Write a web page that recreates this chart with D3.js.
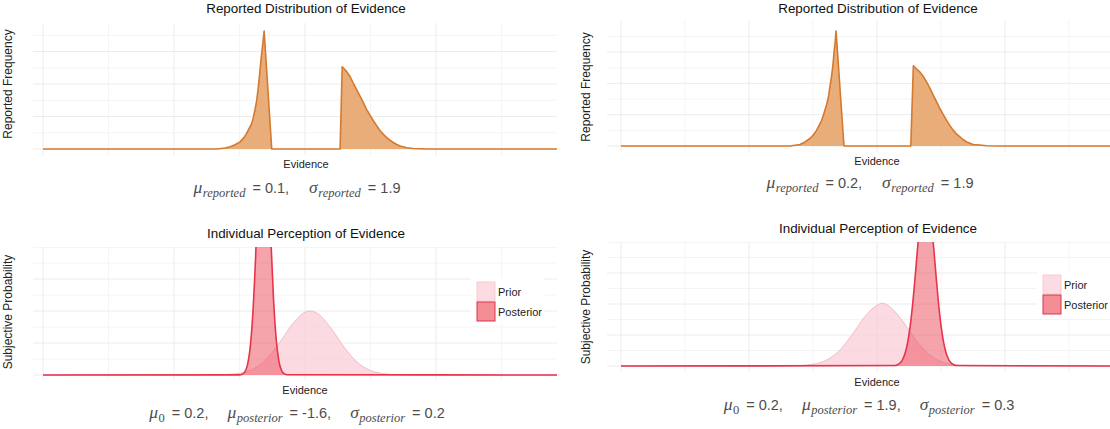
<!DOCTYPE html>
<html><head><meta charset="utf-8">
<script src="https://cdn.jsdelivr.net/npm/d3@7"></script>
<style>body{margin:0;background:#fff} svg{display:block}</style>
</head><body>
<svg id="c" width="1110" height="429"></svg>
<script>
// ---------------- DATA ----------------
const xDomain = [-10, 10];
const xMajorTicks = [-10, -5, 0, 5, 10];
const xMinorTicks = [-7.5, -2.5, 2.5, 7.5];
const topMajorTicks = [0, 0.1, 0.2, 0.3];
const topMinorTicks = [0.05, 0.15, 0.25, 0.35];
const botMajorTicks = [0, 0.2, 0.4, 0.6, 0.8];
const botMinorTicks = [0.1, 0.3, 0.5, 0.7];

// Reported distribution, left column (mu=0.1, sigma=1.9)
const reportedA_low = [[-3.37,0],[-3.05,0.003],[-2.86,0.007],[-2.67,0.013],[-2.48,0.022],[-2.33,0.035],[-2.23,0.048],[-2.14,0.062],[-2.03,0.079],[-1.97,0.098],[-1.91,0.12],[-1.84,0.151],[-1.78,0.192],[-1.73,0.231],[-1.68,0.274],[-1.62,0.317],[-1.56,0.363],[-1.27,0]];
const reportedA_high = [[1.34,0],[1.42,0.253],[1.59,0.238],[1.72,0.223],[1.84,0.203],[1.97,0.183],[2.10,0.163],[2.23,0.142],[2.35,0.122],[2.48,0.104],[2.61,0.087],[2.74,0.071],[2.86,0.057],[2.99,0.045],[3.12,0.035],[3.24,0.027],[3.37,0.02],[3.50,0.014],[3.63,0.009],[3.88,0.004],[4.13,0.0015],[4.64,0]];
// Reported distribution, right column (mu=0.2, sigma=1.9)
const reportedB_low = [[-3.40,0],[-3.01,0.005],[-2.81,0.013],[-2.62,0.024],[-2.49,0.035],[-2.36,0.05],[-2.27,0.064],[-2.16,0.082],[-2.07,0.105],[-1.96,0.135],[-1.89,0.16],[-1.84,0.189],[-1.78,0.22],[-1.73,0.252],[-1.70,0.278],[-1.67,0.306],[-1.63,0.335],[-1.60,0.367],[-1.29,0]];
const reportedB_high = [[1.32,0],[1.42,0.256],[1.55,0.246],[1.68,0.236],[1.81,0.222],[1.94,0.204],[2.07,0.184],[2.20,0.162],[2.33,0.141],[2.46,0.119],[2.59,0.1],[2.72,0.082],[2.85,0.065],[2.98,0.05],[3.11,0.038],[3.24,0.029],[3.37,0.02],[3.50,0.013],[3.63,0.009],[3.76,0.005],[4.02,0.003],[4.28,0.001],[4.80,0]];

// Prior (same in both columns)
const priorX = [-4,-3.5,-3,-2.5,-2,-1.5,-1,-0.5,0,0.2,0.5,1,1.5,2,2.5,3,3.5,4,4.5];
const priorA = [0,0.001,0.003,0.011,0.036,0.094,0.195,0.313,0.392,0.4,0.382,0.29,0.172,0.079,0.028,0.008,0.002,0,0];
const priorB = [0,0.001,0.003,0.011,0.036,0.094,0.195,0.313,0.392,0.405,0.382,0.29,0.172,0.079,0.028,0.008,0.002,0,0];
// Posterior, left column (mu=-1.6)
const postAX = [-2.5,-2.4,-2.3,-2.2,-2.1,-2.0,-1.9,-1.8,-1.7,-1.6,-1.5,-1.4,-1.3,-1.2,-1.1,-1.0,-0.9,-0.8,-0.7];
const postAY = [0.001,0.005,0.018,0.06,0.16,0.36,0.68,1.09,1.46,1.65,1.57,1.25,0.84,0.47,0.225,0.09,0.03,0.008,0.002];
// Posterior, right column (mu=1.9)
const postBX = [0.7,0.8,0.9,1.0,1.1,1.2,1.3,1.4,1.5,1.6,1.7,1.8,1.9,2.0,2.1,2.2,2.3,2.4,2.5,2.6,2.7,2.8,2.9,3.0,3.1];
const postBY = [0.003,0.008,0.019,0.042,0.084,0.154,0.262,0.41,0.595,0.79,0.97,1.095,1.14,1.095,0.97,0.79,0.595,0.41,0.262,0.154,0.084,0.042,0.019,0.008,0.003];

const topTitle = "Reported Distribution of Evidence";
const botTitle = "Individual Perception of Evidence";
const xTitle = "Evidence";
const topYTitle = "Reported Frequency";
const botYTitle = "Subjective Probability";
const legendLabels = ["Prior", "Posterior"];

const formulaTL = [["m","μ"],["s","reported"],["n","= 0.1,"],["m","σ",20],["s","reported"],["n","= 1.9"]];
const formulaTR = [["m","μ"],["s","reported"],["n","= 0.2,"],["m","σ",20],["s","reported"],["n","= 1.9"]];
const formulaBL = [["m","μ"],["z","0"],["n","= 0.2,"],["m","μ",19],["s","posterior"],["n","= -1.6,"],["m","σ",19],["s","posterior"],["n","= 0.2"]];
const formulaBR = [["m","μ"],["z","0"],["n","= 0.2,"],["m","μ",19],["s","posterior"],["n","= 1.9,"],["m","σ",19],["s","posterior"],["n","= 0.3"]];

// ---------------- DRAW ----------------
const svg = d3.select("#c");
const SANS = "'Liberation Sans', Arial, Helvetica, sans-serif";
const SERIF = "'Liberation Serif', 'Times New Roman', serif";
const defs = svg.append("defs");

const panels = [
  {id:"tl", kind:"top", xr:[43,567], yr:[149,19], yd:[0,0.4], box:[33,23,557,155], low:reportedA_low, high:reportedA_high,
   title:[306,13], xt:[306,168], yt:[12,84], f:[297,193], formula:formulaTL},
  {id:"tr", kind:"top", xr:[621,1133], yr:[146,20.8], yd:[0,0.4], box:[607,21,1110,152], low:reportedB_low, high:reportedB_high,
   title:[878,13], xt:[877,165], yt:[590,87], f:[870,188], formula:formulaTR},
  {id:"bl", kind:"bot", xr:[43,567], yr:[375,247], yd:[0,0.8], box:[33,247,557,380], prior:priorA, postX:postAX, postY:postAY,
   title:[306,238], xt:[305,394], yt:[12,312], f:[297,418], formula:formulaBL, leg:[477,282,498]},
  {id:"br", kind:"bot", xr:[621,1133], yr:[366,242], yd:[0,0.8], box:[607,242,1110,372], prior:priorB, postX:postBX, postY:postBY,
   title:[878,233], xt:[877,386], yt:[590,307], f:[869,410], formula:formulaBR, leg:[1043,275,1064]}
];

panels.forEach(p => {
  const x = d3.scaleLinear().domain(xDomain).range(p.xr);
  const y = d3.scaleLinear().domain(p.yd).range(p.yr);
  const [bx0, by0, bx1, by1] = p.box;
  defs.append("clipPath").attr("id","clip-"+p.id).append("rect")
    .attr("x",bx0).attr("y",by0).attr("width",bx1-bx0).attr("height",by1-by0);
  const g = svg.append("g");
  const grid = g.append("g").attr("clip-path","url(#clip-"+p.id+")");
  const yMinor = p.kind==="top" ? topMinorTicks : botMinorTicks;
  const yMajor = p.kind==="top" ? topMajorTicks : botMajorTicks;
  const inY = v => y(v) >= by0 - 0.5 && y(v) <= by1;
  grid.selectAll(".vmin").data(xMinorTicks).join("line")
    .attr("x1",d=>x(d)).attr("x2",d=>x(d)).attr("y1",by0).attr("y2",by1)
    .attr("stroke","#f4f4f4").attr("stroke-width",1);
  grid.selectAll(".hmin").data(yMinor.filter(inY)).join("line")
    .attr("x1",bx0).attr("x2",bx1).attr("y1",d=>y(d)).attr("y2",d=>y(d))
    .attr("stroke","#f4f4f4").attr("stroke-width",1);
  grid.selectAll(".vmaj").data(xMajorTicks).join("line")
    .attr("x1",d=>x(d)).attr("x2",d=>x(d)).attr("y1",by0).attr("y2",by1)
    .attr("stroke","#ececec").attr("stroke-width",1);
  grid.selectAll(".hmaj").data(yMajor.filter(inY)).join("line")
    .attr("x1",bx0).attr("x2",bx1).attr("y1",d=>y(d)).attr("y2",d=>y(d))
    .attr("stroke","#ececec").attr("stroke-width",1);

  const plot = g.append("g").attr("clip-path","url(#clip-"+p.id+")");
  if (p.kind === "top") {
    const data = [[xDomain[0],0]].concat(p.low, p.high, [[xDomain[1],0]]);
    const area = d3.area().x(d=>x(d[0])).y0(y(0)).y1(d=>y(d[1]));
    const line = d3.line().x(d=>x(d[0])).y(d=>y(d[1]));
    plot.append("path").attr("d",area(data)).attr("fill","#e8ad79");
    plot.append("path").attr("d",line(data)).attr("fill","none").attr("stroke","#d5792f")
      .attr("stroke-width",1.6).attr("stroke-linejoin","round");
  } else {
    const prior = [[xDomain[0],0]].concat(priorX.map((v,i)=>[v,p.prior[i]]), [[xDomain[1],0]]);
    const post = [[xDomain[0],0]].concat(p.postX.map((v,i)=>[v,p.postY[i]]), [[xDomain[1],0]]);
    const area = d3.area().curve(d3.curveMonotoneX).x(d=>x(d[0])).y0(y(0)).y1(d=>y(d[1]));
    const line = d3.line().curve(d3.curveMonotoneX).x(d=>x(d[0])).y(d=>y(d[1]));
    plot.append("path").attr("d",area(prior)).attr("fill","#f9cbd6").attr("fill-opacity",0.7);
    plot.append("path").attr("d",line(prior)).attr("fill","none").attr("stroke","#efbcc8").attr("stroke-width",1);
    plot.append("path").attr("d",area(post)).attr("fill","#ed4a5a").attr("fill-opacity",0.5);
    plot.append("path").attr("d",line(post)).attr("fill","none").attr("stroke","#e8334b").attr("stroke-width",1.6);

    // legend
    const [lx, ly, tx] = p.leg;
    const lg = svg.append("g");
    lg.append("rect").attr("x",lx-6).attr("y",ly-4).attr("width",tx-lx+52).attr("height",46).attr("fill","#fff");
    lg.append("rect").attr("x",lx).attr("y",ly).attr("width",18).attr("height",19)
      .attr("fill","#fcdbe3").attr("stroke","#f6cbd5").attr("stroke-width",1);
    lg.append("rect").attr("x",lx).attr("y",ly+20).attr("width",18).attr("height",19)
      .attr("fill","#f38d96").attr("stroke","#db324b").attr("stroke-width",1);
    lg.selectAll("text").data(legendLabels).join("text")
      .attr("x",tx).attr("y",(d,i)=>ly+14+i*20).text(d=>d)
      .attr("font-family",SANS).attr("font-size",11).attr("fill","#222");
  }

  // titles
  svg.append("text").attr("x",p.title[0]).attr("y",p.title[1]).attr("text-anchor","middle")
    .attr("font-family",SANS).attr("font-size",13.4).attr("fill","#111")
    .text(p.kind==="top"?topTitle:botTitle);
  svg.append("text").attr("x",p.xt[0]).attr("y",p.xt[1]).attr("text-anchor","middle")
    .attr("font-family",SANS).attr("font-size",11).attr("fill","#222").text(xTitle);
  svg.append("text").attr("transform",`translate(${p.yt[0]},${p.yt[1]}) rotate(-90)`).attr("text-anchor","middle")
    .attr("font-family",SANS).attr("font-size",12).attr("fill","#222")
    .text(p.kind==="top"?topYTitle:botYTitle);

  // formula
  const t = svg.append("text").attr("x",p.f[0]).attr("y",p.f[1]).attr("text-anchor","middle").attr("fill","#4d4d4d");
  let cur = 0;
  p.formula.forEach((s, i) => {
    const [k, txt, gap] = s;
    const ts = t.append("tspan").text(txt);
    let off = 0, dx = 0;
    if (k === "m") { ts.attr("font-family",SERIF).attr("font-style","italic").attr("font-size",17.5); dx = gap||0; }
    else if (k === "s") { ts.attr("font-family",SERIF).attr("font-style","italic").attr("font-size",12.5); off = 4; dx = 0.5; }
    else if (k === "z") { ts.attr("font-family",SERIF).attr("font-size",12.5); off = 4; dx = 0.5; }
    else { ts.attr("font-family",SANS).attr("font-size",14.5); dx = 7; }
    ts.attr("dx",dx).attr("dy",off-cur);
    cur = off;
  });
});
</script>
</body></html>
